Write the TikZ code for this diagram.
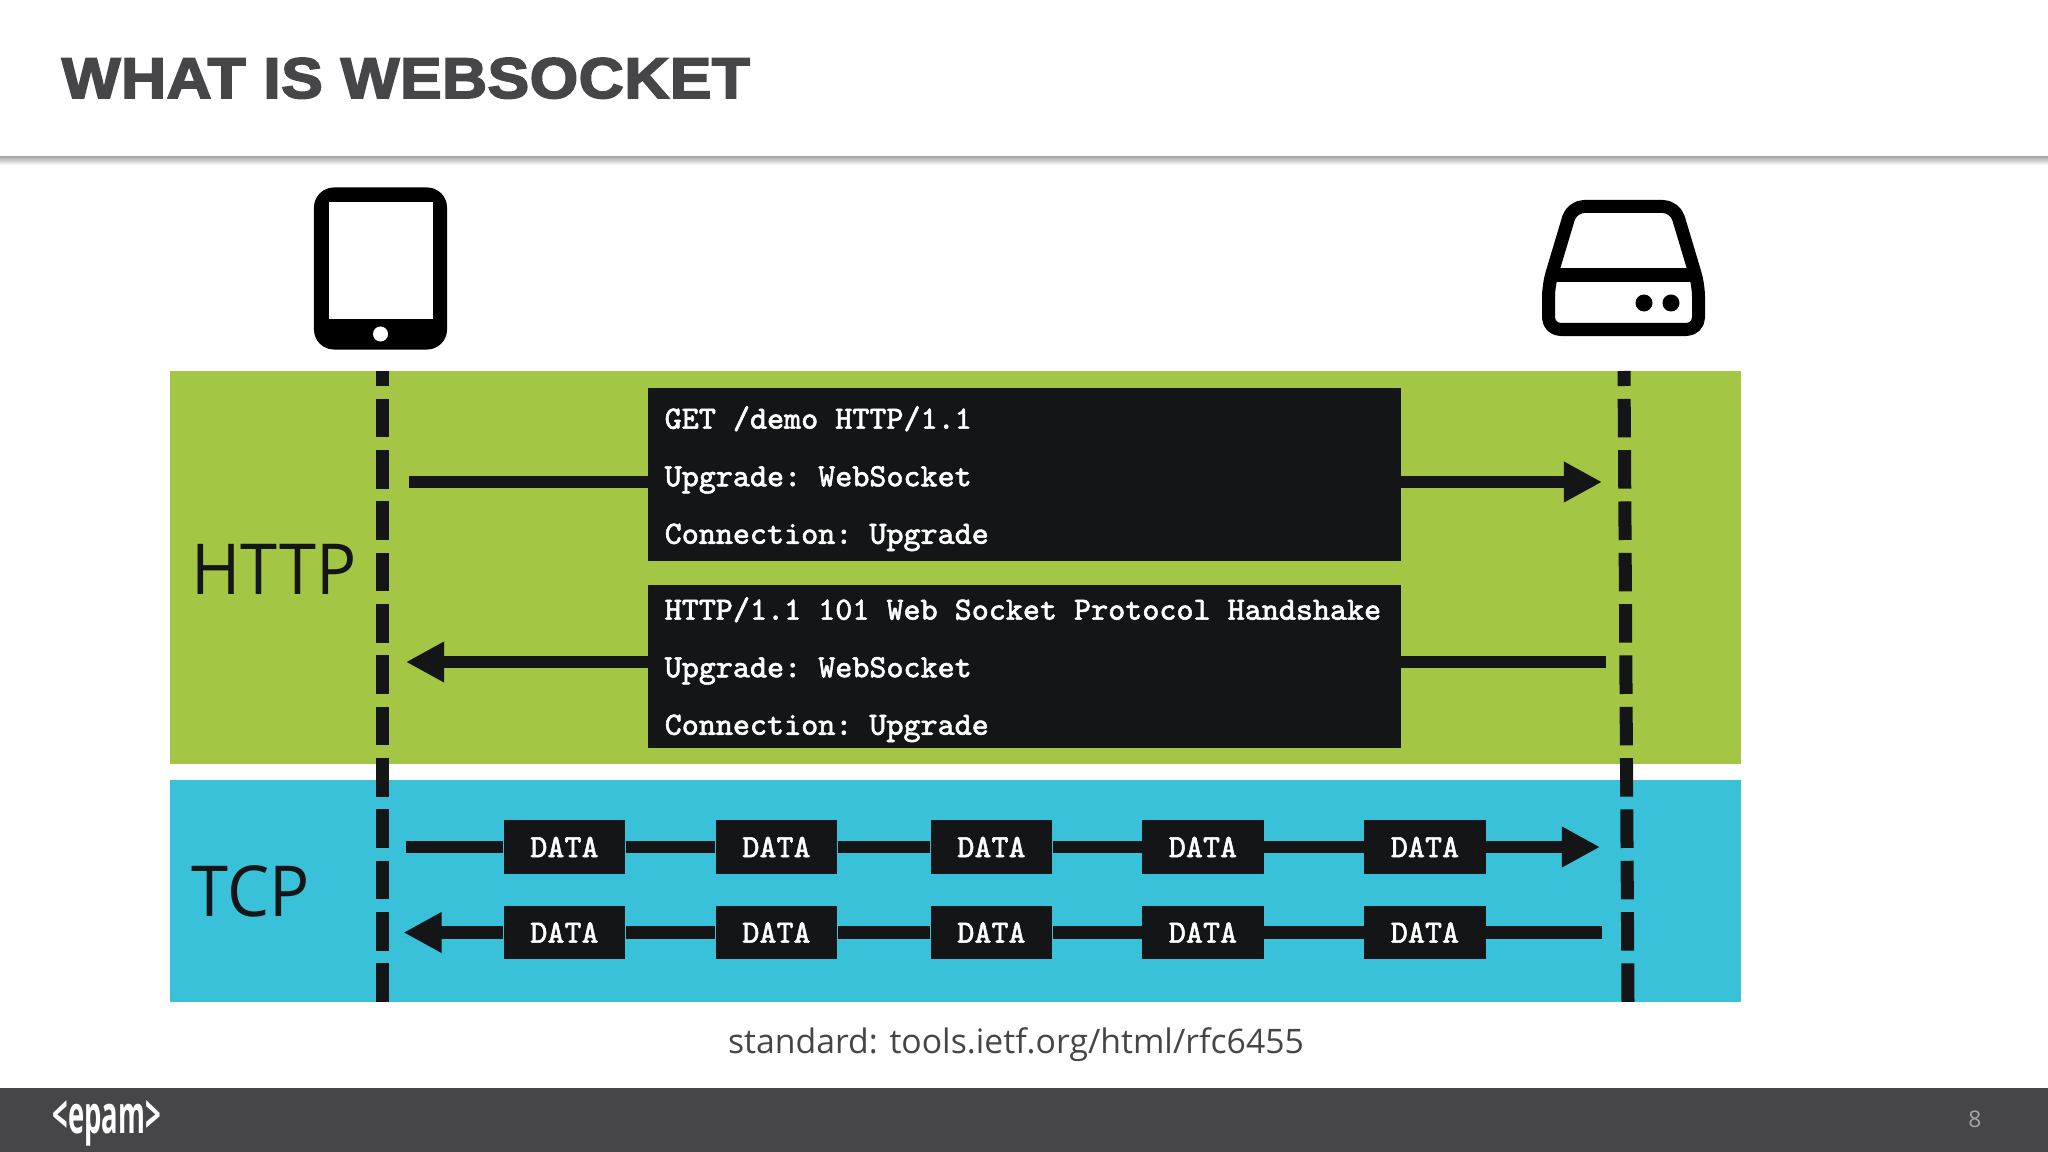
\documentclass[tikz,border=0pt]{standalone}
\usepackage{xcolor}
\usepackage{fontspec}
\usetikzlibrary{arrows.meta, positioning, shadows}
\setmainfont{Open Sans}
\newfontfamily\titlefont[FakeBold=3, LetterSpace=1]{Liberation Sans Bold}
\newfontfamily\codefont[FakeBold=1.6]{Latin Modern Mono}
\definecolor{httpgreen}{RGB}{163,198,68}
\definecolor{tcpblue}{RGB}{56,193,216}
\definecolor{boxblack}{RGB}{20,21,22}
\definecolor{slategray}{RGB}{70,69,71}
\tikzset{
  softshadow/.style={drop shadow={shadow xshift=0cm, shadow yshift=-0.04cm, opacity=.2, fill=black}},
  lifeline/.style={boxblack, line width=0.13cm, dash pattern=on 0.385cm off 0.128cm, dash phase=0.235cm},
  conn/.style={boxblack, line width=0.125cm, softshadow},
  tip/.style={-{Triangle[length=0.38cm, width=0.38cm]}},
  msgbox/.style={fill=boxblack, text=white, anchor=north west, inner xsep=0.165cm, inner ysep=0cm,
    text width=7.19cm, align=flush left, font=\codefont\frenchspacing\fontsize{9.24}{16.36}\selectfont},
  databox/.style={fill=boxblack, text=white, minimum width=1.21cm, minimum height=0.53cm, inner sep=0cm,
    font=\codefont\fontsize{9.24}{10}\selectfont},
  bandlabel/.style={anchor=base west, xscale=.95, inner sep=0cm, text=boxblack, font=\fontsize{20}{24}\selectfont}
}
\begin{document}
\begin{tikzpicture}[x=0.01cm, y=-0.01cm]
  \useasboundingbox (0,0) rectangle (2048,1152);

  % Header and footer
  \shade[top color=black!32, bottom color=white] (0,157) rectangle (2048,165);
  \node[anchor=base west, xscale=1.085, text=slategray, font=\titlefont\fontsize{16.3}{20}\selectfont, inner sep=0cm] (title) at (61,98) {WHAT IS WEBSOCKET};
  \fill[slategray] (0,1088) rectangle (2048,1152);
  \node[anchor=base west, xscale=.52, text=white, font=\bfseries\fontsize{15}{17}\selectfont, inner sep=0cm] (logo) at (52,1133) {<epam>};
  \node[text=black!35, font=\fontsize{6.5}{8}\selectfont, inner sep=0cm] (pagenum) at (1975,1119) {8};

  % Bands
  \fill[httpgreen] (170,371) rectangle (1741,764);
  \fill[tcpblue] (170,780) rectangle (1741,1002);
  \node[bandlabel] (httplabel) at (191,594) {HTTP};
  \node[bandlabel] (tcplabel) at (191,916) {TCP};

  % Client icon
  \node[fill=black, rounded corners=0.2cm, minimum width=1.33cm, minimum height=1.62cm, inner sep=0cm] (phone) at (380.5,268.5) {};
  \node[fill=white, minimum width=1.03cm, minimum height=1.17cm, inner sep=0cm] (screen) at (381,260.5) {};
  \node[fill=white, circle, minimum size=0.15cm, inner sep=0cm] (homebtn) at (380.5,334) {};

  % Server icon
  \draw[line width=0.13cm, rounded corners=0.12cm, line join=round]
    (1548.5,329.5) -- (1548.5,285) -- (1572,206.5) -- (1675,206.5) -- (1698.5,285) -- (1698.5,329.5) -- cycle;
  \draw[line width=0.13cm] (1552,275) -- (1695,275);
  \node[fill=black, circle, minimum size=0.17cm, inner sep=0cm] (led1) at (1644,303) {};
  \node[fill=black, circle, minimum size=0.17cm, inner sep=0cm] (led2) at (1671,303) {};

  % Lifelines
  \coordinate (clienttop) at (382,371);
  \coordinate (clientend) at (382,1003);
  \coordinate (servertop) at (1624,371);
  \coordinate (serverend) at (1628,1003);
  \draw[lifeline] (clienttop) -- (clientend);
  \draw[lifeline] (servertop) -- (serverend);

  % Handshake messages
  \node[msgbox, text height=0.41cm, text depth=1.32cm] (request) at (647.5,387)
    {GET /demo HTTP/1.1\\Upgrade: WebSocket\\Connection: Upgrade};
  \node[msgbox, text height=0.35cm, text depth=1.28cm] (response) at (647.5,584)
    {HTTP/1.1 101 Web Socket Protocol Handshake\\Upgrade: WebSocket\\Connection: Upgrade};
  \coordinate (reqstart) at (409,482);
  \coordinate (reqend) at (1602,482);
  \coordinate (respstart) at (1606,662);
  \coordinate (respend) at (406,662);
  \draw[conn] (reqstart) -- (reqstart -| request.west);
  \draw[conn, tip] (reqend -| request.east) -- (reqend);
  \draw[conn] (respstart) -- (respstart -| response.east);
  \draw[conn, tip] (respend -| response.west) -- (respend);

  % TCP frames
  \coordinate (outstart) at (406,847);
  \coordinate (outend) at (1600,847);
  \coordinate (instart) at (1602,932.5);
  \coordinate (inend) at (403.5,932.5);
  \foreach \n/\x in {1/564.5, 2/776.5, 3/991.5, 4/1203, 5/1425} {
    \node[databox] (out\n) at (\x,847) {\raisebox{-0.1cm}{DATA}};
    \node[databox] (in\n) at (\x,932.5) {\raisebox{-0.13cm}{DATA}};
  }
  \foreach \a/\b in {outstart/out1, out1/out2, out2/out3, out3/out4, out4/out5,
                     instart/in5, in5/in4, in4/in3, in3/in2, in2/in1}
    \draw[conn] (\a) -- (\b);
  \draw[conn, tip] (out5) -- (outend);
  \draw[conn, tip] (in1) -- (inend);

  % Footnote
  \node[anchor=base, text=slategray, font=\fontsize{9.6}{12}\selectfont, inner sep=0cm] (standard) at (1016,1053) {standard: tools.ietf.org/html/rfc6455};
\end{tikzpicture}
\end{document}
